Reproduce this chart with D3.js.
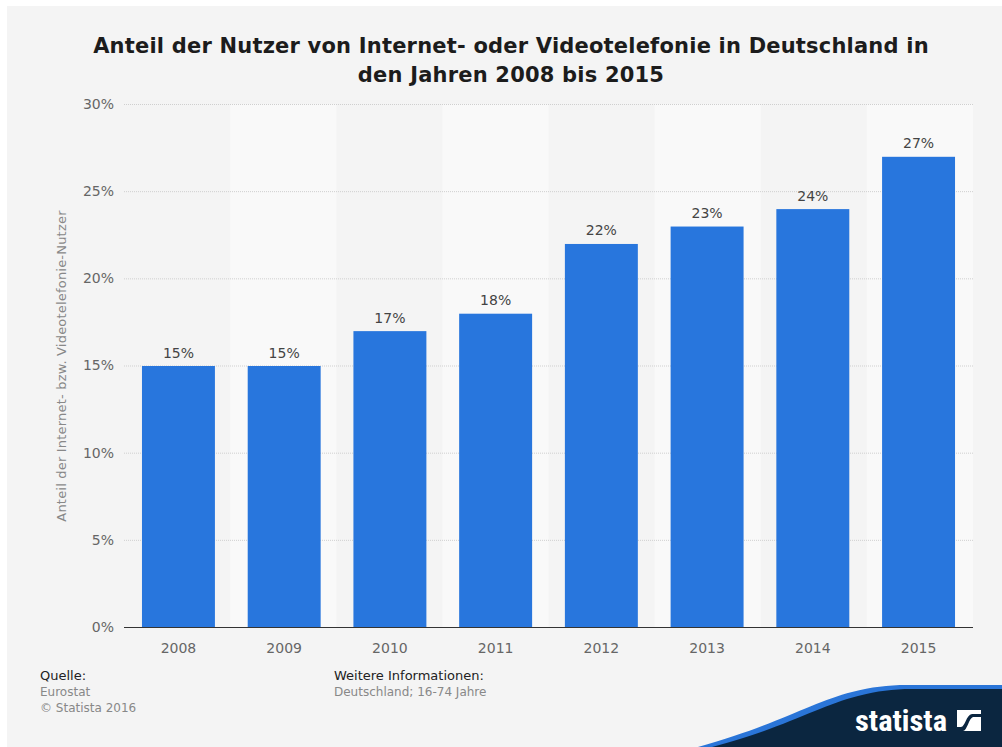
<!DOCTYPE html>
<html><head><meta charset="utf-8">
<script src="https://cdn.jsdelivr.net/npm/d3@7"></script>
<style>html,body{margin:0;padding:0;background:#fff;}svg{display:block;}</style>
</head><body>
<script>
const years = ["2008","2009","2010","2011","2012","2013","2014","2015"];
const values = [15,15,17,18,22,23,24,27];
const yTicks = [0,5,10,15,20,25,30];
const titleLines = ["Anteil der Nutzer von Internet- oder Videotelefonie in Deutschland in","den Jahren 2008 bis 2015"];
const yTitle = "Anteil der Internet- bzw. Videotelefonie-Nutzer";

const W = 1002, H = 747;
const svg = d3.select("body").append("svg").attr("width", W).attr("height", H);
const font = "'DejaVu Sans', sans-serif";

svg.append("rect").attr("x",0).attr("y",0).attr("width",W).attr("height",H).attr("fill","#fff");
svg.append("rect").attr("x",7).attr("y",6).attr("width",W-7).attr("height",H-6).attr("fill","#f4f4f4");

const x0 = 124, x1 = 973, yTop = 104, yBot = 627;
const x = d3.scaleBand().domain(years).range([x0, x1]).paddingInner(0.31).paddingOuter(0.17);
const xb = d3.scaleBand().domain(years).range([x0, x1]).padding(0);
const y = d3.scaleLinear().domain([0,30]).range([yBot, yTop]);

// alternating bands
svg.append("g").selectAll("rect").data(years.filter((d,i)=>i%2===1)).join("rect")
  .attr("x", d=>xb(d)).attr("y", yTop).attr("width", xb.bandwidth()).attr("height", yBot-yTop)
  .attr("fill","#f9f9f9");

// gridlines
svg.append("g").selectAll("line").data(yTicks.filter(t=>t>0)).join("line")
  .attr("x1", x0).attr("x2", x1).attr("y1", d=>y(d)+0.5).attr("y2", d=>y(d)+0.5)
  .attr("stroke","#cfcfcf").attr("stroke-width",1).attr("stroke-dasharray","1,1");

// y tick labels
svg.append("g").selectAll("text").data(yTicks).join("text")
  .attr("x", 114).attr("y", d=>y(d)).attr("dy","0.35em").attr("text-anchor","end")
  .attr("font-family",font).attr("font-size",14).attr("fill","#666")
  .text(d=>d+"%");

// bars
svg.append("g").selectAll("rect").data(values).join("rect")
  .attr("x",(d,i)=>x(years[i])).attr("y",d=>y(d)+0.5).attr("width",x.bandwidth()).attr("height",d=>yBot-y(d)-0.5)
  .attr("fill","#2876dd");

// value labels
svg.append("g").selectAll("text").data(values).join("text")
  .attr("x",(d,i)=>x(years[i])+x.bandwidth()/2).attr("y",d=>y(d)-8)
  .attr("text-anchor","middle").attr("font-family",font).attr("font-size",14).attr("fill","#444")
  .text(d=>d+"%");

// baseline
svg.append("line").attr("x1",x0).attr("x2",x1).attr("y1",yBot+0.5).attr("y2",yBot+0.5)
  .attr("stroke","#333").attr("stroke-width",1.2);

// x labels
svg.append("g").selectAll("text").data(years).join("text")
  .attr("x",d=>x(d)+x.bandwidth()/2).attr("y",653).attr("text-anchor","middle")
  .attr("font-family",font).attr("font-size",14).attr("fill","#666").text(d=>d);

// y title
svg.append("text").attr("transform","translate(66,366) rotate(-90)").attr("text-anchor","middle")
  .attr("font-family",font).attr("font-size",13).attr("letter-spacing",0.2).attr("fill","#888").text(yTitle);

// title
svg.append("g").selectAll("text").data(titleLines).join("text")
  .attr("x",511).attr("y",(d,i)=>53+i*29).attr("text-anchor","middle")
  .attr("font-family",font).attr("font-weight","bold").attr("font-size",21).attr("letter-spacing",0.2).attr("fill","#1c1c1c")
  .text(d=>d);

// footer
const foot = [
  {t:"Quelle:",x:40,y:680,c:"#222",s:13},
  {t:"Eurostat",x:40,y:696,c:"#888",s:12},
  {t:"© Statista 2016",x:40,y:712,c:"#888",s:12},
  {t:"Weitere Informationen:",x:334,y:680,c:"#222",s:13},
  {t:"Deutschland; 16-74 Jahre",x:334,y:696,c:"#888",s:12}
];
svg.append("g").selectAll("text").data(foot).join("text")
  .attr("x",d=>d.x).attr("y",d=>d.y).attr("font-family",font).attr("font-size",d=>d.s).attr("fill",d=>d.c).text(d=>d.t);

// logo
const logo = svg.append("g");
logo.append("path").attr("d","M698,747 C775,726 812,702 852,692 C872,687 887,685 907,685 L1002,685 L1002,747 Z").attr("fill","#2a75d8");
logo.append("path").attr("d","M712,747 C785,728 818,706 858,696 C878,691 892,689 912,689 L1002,689 L1002,747 Z").attr("fill","#0b2640");
logo.append("text").attr("x",855).attr("y",731).attr("font-family","'Liberation Sans Narrow','Roboto Condensed','Liberation Sans',sans-serif")
  .attr("font-weight","bold").attr("font-size",29).attr("fill","#fff").attr("textLength",92).attr("lengthAdjust","spacingAndGlyphs").text("statista");
const ix=957, iy=710, is=24;
logo.append("rect").attr("x",ix).attr("y",iy).attr("width",is).attr("height",is-3).attr("fill","#fff");
logo.append("path").attr("d",`M${ix},${iy+is-3} L${ix+6},${iy+is-3} C${ix+10},${iy+is-3} ${ix+12},${iy+8} ${ix+16},${iy+7} L${ix+is},${iy+7} L${ix+is},${iy+4} L${ix+15},${iy+4} C${ix+9},${iy+5} ${ix+8},${iy+is-7} ${ix+4},${iy+is-7} L${ix},${iy+is-7} Z`).attr("fill","#0b2640");
</script>
</body></html>
